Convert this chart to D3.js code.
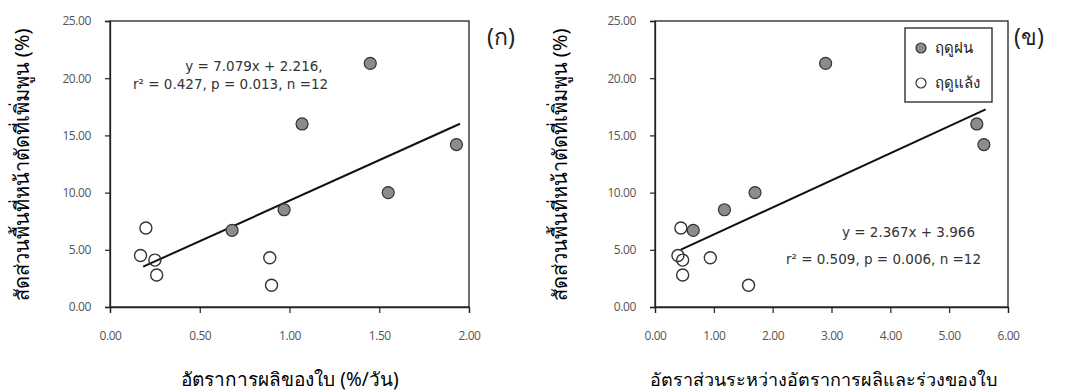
<!DOCTYPE html>
<html>
<head>
<meta charset="utf-8">
<script src="https://cdn.jsdelivr.net/npm/d3@7"></script>
<style>
  body { margin: 0; background: #fff; }
  svg text { font-family: Tahoma, "Noto Sans", "DejaVu Sans", sans-serif; }
</style>
</head>
<body>
<div id="chart"></div>
<script>
"use strict"

// accretion share (%) -- same points in both panels
const rainY = [21.3, 16.0, 14.2, 10.0, 8.5, 6.7]
const dryY = [6.9, 4.5, 4.1, 2.8, 4.3, 1.9]

// panel (ก): leaf production rate (%/day)
const rainXa = [1.45, 1.07, 1.93, 1.55, 0.97, 0.68]
const dryXa = [0.20, 0.17, 0.25, 0.26, 0.89, 0.90]

// panel (ข): production / fall ratio
const rainXb = [2.90, 5.47, 5.59, 1.70, 1.18, 0.65]
const dryXb = [0.44, 0.39, 0.47, 0.47, 0.94, 1.59]

const yTicks = [0, 5, 10, 15, 20, 25]
const xTicksA = [0, 0.5, 1, 1.5, 2]
const xTicksB = [0, 1, 2, 3, 4, 5, 6]

const legendLabels = ["ฤดูฝน", "ฤดูแล้ง"]
const yTitle = "สัดส่วนพื้นที่หน้าตัดที่เพิ่มพูน (%)"

const panels = [
  {
    left: 110, right: 469, xMax: 2, xTicks: xTicksA,
    rainX: rainXa, dryX: dryXa,
    slope: 7.079, intercept: 2.216, fitFrom: 0.185, fitTo: 1.95,
    tag: "(ก)", tagX: 501,
    xTitle: "อัตราการผลิของใบ (%/วัน)", xTitleX: 290, xTitleSize: 19, yTitleX: 29,
    eq: [
      { text: "y = 7.079x + 2.216,", x: 254, y: 71, anchor: "middle" },
      { text: "r² = 0.427, p = 0.013, n =12", x: 133, y: 89, anchor: "start" }
    ],
    legend: false
  },
  {
    left: 655, right: 1008, xMax: 6, xTicks: xTicksB,
    rainX: rainXb, dryX: dryXb,
    slope: 2.367, intercept: 3.966, fitFrom: 0.44, fitTo: 5.62,
    tag: "(ข)", tagX: 1029,
    xTitle: "อัตราส่วนระหว่างอัตราการผลิและร่วงของใบ", xTitleX: 823, xTitleSize: 18, yTitleX: 567,
    eq: [
      { text: "y = 2.367x + 3.966", x: 975, y: 237, anchor: "end" },
      { text: "r² = 0.509, p = 0.006, n =12", x: 981, y: 264, anchor: "end" }
    ],
    legend: true
  }
]

const width = 1089, height = 392
const plotTop = 21, plotBottom = 307

const svg = d3.select("#chart").append("svg")
  .attr("width", width)
  .attr("height", height)

const y = d3.scaleLinear().domain([0, 25]).range([plotBottom, plotTop])

panels.forEach((p) => {
  const x = d3.scaleLinear().domain([0, p.xMax]).range([p.left, p.right])
  const g = svg.append("g")

  // frame
  g.append("rect")
    .attr("x", p.left).attr("y", plotTop)
    .attr("width", p.right - p.left).attr("height", plotBottom - plotTop)
    .attr("fill", "none").attr("stroke", "#222").attr("stroke-width", 1.3)

  const yAxis = g.append("g")
    .attr("transform", `translate(${p.left},0)`)
    .call(d3.axisLeft(y).tickValues(yTicks).tickFormat(d3.format(".2f")).tickSize(5).tickPadding(14))
  const xAxis = g.append("g")
    .attr("transform", `translate(0,${plotBottom})`)
    .call(d3.axisBottom(x).tickValues(p.xTicks).tickFormat(d3.format(".2f")).tickSize(6).tickPadding(18))

  for (const ax of [yAxis, xAxis]) {
    ax.select(".domain").attr("stroke", "#222").attr("stroke-width", 1.3)
    ax.selectAll(".tick line").attr("stroke", "#222").attr("stroke-width", 1.2)
    ax.selectAll(".tick text")
      .attr("fill", "#555")
      .attr("font-size", 12)
      .style("font-family", "'Open Sans', 'Liberation Sans', sans-serif")
      .style("letter-spacing", "-0.4px")
  }

  // fit line
  g.append("line")
    .attr("x1", x(p.fitFrom)).attr("y1", y(p.slope * p.fitFrom + p.intercept))
    .attr("x2", x(p.fitTo)).attr("y2", y(p.slope * p.fitTo + p.intercept))
    .attr("stroke", "#111").attr("stroke-width", 2)

  g.selectAll("circle.dry")
    .data(p.dryX.map((v, i) => [v, dryY[i]]))
    .enter().append("circle")
      .attr("class", "dry")
      .attr("cx", (d) => x(d[0])).attr("cy", (d) => y(d[1]))
      .attr("r", 6)
      .attr("fill", "none").attr("stroke", "#333").attr("stroke-width", 1.4)

  g.selectAll("circle.rain")
    .data(p.rainX.map((v, i) => [v, rainY[i]]))
    .enter().append("circle")
      .attr("class", "rain")
      .attr("cx", (d) => x(d[0])).attr("cy", (d) => y(d[1]))
      .attr("r", 6)
      .attr("fill", "#8c8c8c").attr("stroke", "#333").attr("stroke-width", 1.2)

  p.eq.forEach((e) => {
    g.append("text")
      .attr("x", e.x).attr("y", e.y)
      .attr("text-anchor", e.anchor)
      .attr("font-size", 13.5)
      .attr("fill", "#333")
      .style("font-family", "'DejaVu Sans', sans-serif")
      .text(e.text)
  })

  g.append("text")
    .attr("x", p.tagX).attr("y", 45)
    .attr("text-anchor", "middle")
    .attr("font-size", 23)
    .attr("fill", "#222")
    .text(p.tag)

  g.append("text")
    .attr("x", p.xTitleX).attr("y", 386)
    .attr("text-anchor", "middle")
    .attr("font-size", p.xTitleSize)
    .attr("fill", "#000")
    .text(p.xTitle)

  g.append("text")
    .attr("transform", `translate(${p.yTitleX},${(plotTop + plotBottom) / 2 + 1}) rotate(-90)`)
    .attr("text-anchor", "middle")
    .attr("font-size", 20)
    .attr("fill", "#000")
    .text(yTitle)

  if (p.legend) {
    const lg = g.append("g").attr("transform", "translate(905,28)")
    lg.append("rect")
      .attr("width", 87).attr("height", 74)
      .attr("fill", "#fff").attr("stroke", "#222").attr("stroke-width", 1.3)
    legendLabels.forEach((label, i) => {
      lg.append("circle")
        .attr("cx", 16).attr("cy", 20 + i * 35)
        .attr("r", 5)
        .attr("fill", i == 0 ? "#8c8c8c" : "none")
        .attr("stroke", "#333").attr("stroke-width", 1.2)
      lg.append("text")
        .attr("x", 30).attr("y", 25 + i * 35)
        .attr("font-size", 15)
        .attr("fill", "#222")
        .text(label)
    })
  }
})
</script>
</body>
</html>
